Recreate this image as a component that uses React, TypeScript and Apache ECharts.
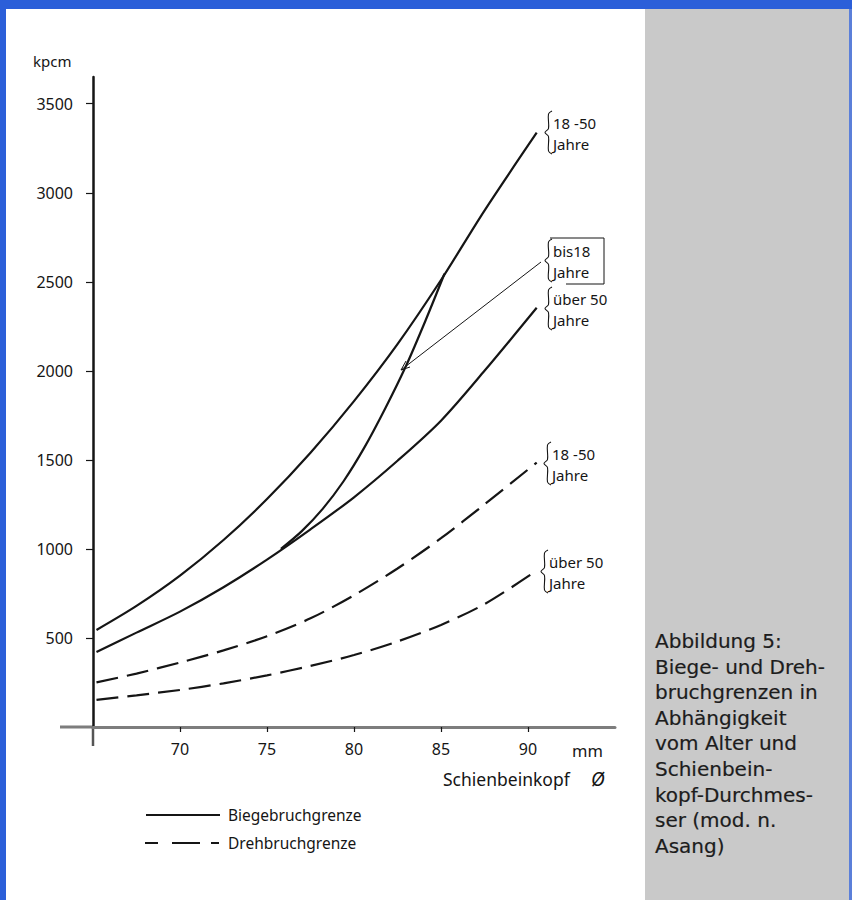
import React, { useEffect, useRef } from "react";
import * as echarts from "echarts";

// Data (x: Schienbeinkopf-Durchmesser in mm, y: kpcm)
const biege1850 = [[65.2, 545], [67.5, 680], [70, 850], [72.5, 1050], [75, 1280], [77.5, 1540], [80, 1830], [82.5, 2150], [85, 2510], [87.5, 2900], [90.5, 3337]];
const biegeBis18 = [[75.8, 1000], [77, 1100], [78.2, 1225], [79.4, 1380], [80.6, 1570], [81.8, 1790], [83, 2030], [84.1, 2280], [85.2, 2545]];
const biegeUeber50 = [[65.2, 421], [67.5, 530], [70, 648], [72.5, 785], [75, 940], [77.5, 1110], [80, 1290], [82.5, 1495], [85, 1720], [87.5, 2000], [90.5, 2354]];
const dreh1850 = [[65.2, 251], [67.5, 300], [70, 362], [72.5, 430], [75, 510], [77.5, 610], [80, 740], [82.5, 890], [85, 1060], [87.5, 1250], [90.5, 1485]];
const drehUeber50 = [[65.2, 152], [67.5, 178], [70, 208], [72.5, 245], [75, 290], [77.5, 343], [80, 404], [82.5, 480], [85, 573], [87.5, 690], [90.3, 865]];

const xTicks = [70, 75, 80, 85, 90];
const yTicks = [500, 1000, 1500, 2000, 2500, 3000, 3500];
const legendNames = ["Biegebruchgrenze", "Drehbruchgrenze"];
const captionLines = [
  "Abbildung 5:",
  "Biege- und Dreh-",
  "bruchgrenzen in",
  "Abhängigkeit",
  "vom Alter und",
  "Schienbein-",
  "kopf-Durchmes-",
  "ser (mod. n.",
  "Asang)",
];
const curveLabels = [
  { text: "18 -50\nJahre", x: 547, y: 122 },
  { text: "bis18\nJahre", x: 547, y: 250 },
  { text: "über 50\nJahre", x: 547, y: 298 },
  { text: "18 -50\nJahre", x: 546, y: 453 },
  { text: "über 50\nJahre", x: 543, y: 561 },
];

const FONT = "'Noto Sans', 'DejaVu Sans', sans-serif";
const INK = "#151515";

function txt(text: string, x: number, y: number, size: number, extra: any = {}) {
  return {
    type: "text",
    style: {
      text,
      x,
      y,
      fontSize: size,
      fontFamily: FONT,
      fill: INK,
      textAlign: "left",
      textVerticalAlign: "middle",
      ...extra,
    },
  };
}

function brace(x: number, y1: number, y2: number) {
  const m = (y1 + y2) / 2;
  return {
    type: "polyline",
    shape: {
      points: [
        [x + 5, y1],
        [x + 1.5, y1 + 3],
        [x + 1.5, m - 4],
        [x - 2, m],
        [x + 1.5, m + 4],
        [x + 1.5, y2 - 3],
        [x + 5, y2],
      ],
      smooth: 0.35,
    },
    style: { stroke: INK, lineWidth: 1.1, fill: "none" },
  };
}

export default function App() {
  const ref = useRef<HTMLDivElement>(null);
  useEffect(() => {
    if (!ref.current) return;
    const chart = echarts.init(ref.current, null, { renderer: "svg" });
    const solid = { color: INK, width: 2.2 };
    const dashed = { color: INK, width: 2.2, type: [22, 9] as any };
    const mkSeries = (name: string, data: number[][], ls: any) => ({
      name,
      type: "line",
      data,
      smooth: 0.3,
      symbol: "none",
      lineStyle: ls,
      itemStyle: { color: INK },
      z: 3,
    });

    const graphics: any[] = [
      { type: "rect", shape: { x: 645, y: 0, width: 207, height: 900 }, style: { fill: "#c9c9c9" }, z: -10 },
      { type: "rect", shape: { x: 0, y: 0, width: 852, height: 9 }, style: { fill: "#2b5fd9" }, z: -5 },
      { type: "rect", shape: { x: 0, y: 0, width: 6, height: 900 }, style: { fill: "#2b5fd9" }, z: -5 },
      { type: "rect", shape: { x: 849, y: 9, width: 3, height: 891 }, style: { fill: "#5b7fd9" }, z: -5 },
      // axis stubs
      { type: "line", shape: { x1: 60, y1: 727, x2: 93, y2: 727 }, style: { stroke: "#7d7d7d", lineWidth: 3 } },
      { type: "line", shape: { x1: 93, y1: 727, x2: 93, y2: 746 }, style: { stroke: "#555", lineWidth: 2.5 } },
      txt("kpcm", 33, 61, 15),
      txt("mm", 572, 750, 16.5),
      txt("Schienbeinkopf", 443, 779, 17.5),
      txt("Ø", 591, 779, 19, { fontStyle: "italic" }),
      // pointer for "bis18"
      { type: "line", shape: { x1: 541, y1: 262, x2: 401, y2: 370 }, style: { stroke: INK, lineWidth: 1 } },
      { type: "polyline", shape: { points: [[406, 361], [401, 370], [410, 367]] }, style: { stroke: INK, lineWidth: 1, fill: "none" } },
      // frame for bis18
      { type: "polyline", shape: { points: [[550, 238], [604, 238], [604, 284], [566, 284]] }, style: { stroke: INK, lineWidth: 1, fill: "none" } },
      // legend
      { type: "line", shape: { x1: 146, y1: 815, x2: 220, y2: 815 }, style: { stroke: INK, lineWidth: 2 } },
      txt(legendNames[0], 228, 815, 15.5),
      { type: "line", shape: { x1: 145, y1: 843, x2: 158, y2: 843 }, style: { stroke: INK, lineWidth: 2 } },
      { type: "line", shape: { x1: 172, y1: 843, x2: 200, y2: 843 }, style: { stroke: INK, lineWidth: 2 } },
      { type: "line", shape: { x1: 211, y1: 843, x2: 219, y2: 843 }, style: { stroke: INK, lineWidth: 2 } },
      txt(legendNames[1], 228, 843, 15.5),
    ];
    curveLabels.forEach((l) => {
      graphics.push(brace(l.x, l.y - 11, l.y + 32));
      graphics.push(txt(l.text, l.x + 6, l.y - 10, 15, { lineHeight: 21.5, textVerticalAlign: "top" }));
    });
    captionLines.forEach((t, i) => {
      graphics.push(
        txt(t, 655, 641 + i * 25.6, 20, {
          fontFamily: "'DejaVu Sans', sans-serif",
          fill: "#1c1c1c",
          stroke: "#1c1c1c",
          lineWidth: 0.2,
        })
      );
    });

    chart.setOption({
      animation: false,
      backgroundColor: "#ffffff",
      grid: { left: 93, top: 77, width: 522, height: 650, containLabel: false },
      xAxis: {
        type: "value",
        min: 65,
        max: 95,
        axisLine: { show: true, lineStyle: { color: "#7d7d7d", width: 3 } },
        axisTick: { show: true, length: 5, customValues: xTicks, lineStyle: { color: INK, width: 1.2 } },
        axisLabel: { customValues: xTicks, margin: 14, fontSize: 16, fontFamily: FONT, color: INK },
        splitLine: { show: false },
      },
      yAxis: {
        type: "value",
        min: 0,
        max: 3650,
        axisLine: { show: true, onZero: false, lineStyle: { color: INK, width: 2.5 } },
        axisTick: { show: true, length: 7, customValues: yTicks, lineStyle: { color: INK, width: 1.2 } },
        axisLabel: {
          customValues: yTicks,
          margin: 20,
          fontSize: 16,
          fontFamily: FONT,
          color: INK,
          formatter: (v: number) => String(v),
        },
        splitLine: { show: false },
      },
      series: [
        mkSeries(legendNames[0], biege1850, solid),
        mkSeries(legendNames[0], biegeBis18, solid),
        mkSeries(legendNames[0], biegeUeber50, solid),
        mkSeries(legendNames[1], dreh1850, dashed),
        mkSeries(legendNames[1], drehUeber50, dashed),
      ],
      graphic: graphics,
    });
    return () => chart.dispose();
  }, []);
  return <div ref={ref} style={{ position: "fixed", left: 0, top: 0, width: 852, height: 900 }} />;
}
